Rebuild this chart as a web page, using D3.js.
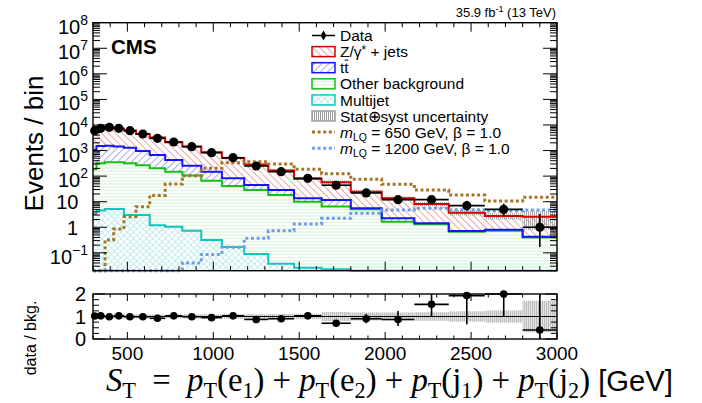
<!DOCTYPE html>
<html>
<head>
<meta charset="utf-8">
<script src="https://cdn.jsdelivr.net/npm/d3@7"></script>
<style>
  body { margin: 0; background: #fff; }
  svg { font-family: "Liberation Sans", Arial, sans-serif; }
</style>
</head>
<body>
<script>
// ---- data ----
var binEdges = [300, 320, 370, 420, 480, 550, 630, 720, 820, 930, 1050, 1180, 1320, 1470, 1630, 1800, 1980, 2170, 2370, 2580, 2800, 3000];

var multijet = [3.3, 4.5, 5.2, 5.2, 3.0, 3.0, 1.2, 1.05, 0.73, 0.32, 0.17, 0.09, 0.037, 0.026, 0.023, 0.01, 0.01, 0.01, 0.01, 0.01, 0.01];
var otherBkg = [182, 312, 342, 342, 314, 262, 201, 148, 104, 65.7, 40.8, 28.5, 18.3, 10, 6.4, 5.0, 1.64, 1.29, 0.66, 0.72, 0.39];
var ttbar    = [865, 1183, 1203, 1103, 973, 695, 468, 278, 150, 83, 41, 16.4, 10.3, 3.6, 5.1, 0.5, 0.59, 0.13, 0.05, 0.07, 0.03];
var zjets    = [4800, 5690, 6640, 5740, 4740, 3520, 2600, 1673, 1175, 718, 428, 241, 137, 66, 45.5, 19.1, 11.4, 6.7, 3.0, 1.95, 2.17];
var bkgRelUnc = [0.09, 0.09, 0.09, 0.09, 0.09, 0.09, 0.09, 0.09, 0.09, 0.10, 0.10, 0.10, 0.11, 0.12, 0.20, 0.18, 0.18, 0.19, 0.23, 0.27, 0.70];

var dataCounts = [5970, 7410, 8110, 7410, 5970, 4440, 3010, 2160, 1415, 824, 525, 249, 149, 82, 44, 22, 12, 12, 7, 5, 1];
var dataErrLo  = [77, 86, 90, 86, 77, 67, 55, 46, 38, 29, 23, 15.3, 12.2, 9.0, 6.6, 4.7, 3.5, 3.5, 2.6, 2.2, 0.83];
var dataErrHi  = [77, 86, 90, 86, 77, 67, 55, 46, 38, 29, 23, 16.3, 13.2, 10.1, 7.7, 5.7, 4.5, 4.5, 3.8, 3.4, 2.3];

var lq650  = [0.01, 0.01, 0.32, 0.86, 2.6, 6.4, 17.5, 49, 104, 202, 335, 366, 298, 185, 124, 75, 48, 28.6, 18.3, 10.6, 14.9];
var lq1200 = [0.01, 0.01, 0.01, 0.01, 0.01, 0.01, 0.01, 0.01, 0.04, 0.086, 0.166, 0.37, 0.73, 1.34, 2.24, 3.5, 4.7, 5.5, 4.8, 4.3, 4.7];

var ratio      = [1.02, 1.03, 0.99, 1.03, 0.99, 0.99, 0.92, 1.03, 0.99, 0.95, 1.03, 0.87, 0.90, 1.03, 0.70, 0.90, 0.87, 1.54, 1.93, 2.03, 0.40];
var ratioErrLo = [0.02, 0.02, 0.02, 0.02, 0.02, 0.02, 0.02, 0.03, 0.03, 0.04, 0.05, 0.06, 0.08, 0.12, 0.11, 0.20, 0.29, 0.52, 1.28, 1.01, 0.40];
var ratioErrHi = [0.02, 0.02, 0.02, 0.02, 0.02, 0.02, 0.02, 0.03, 0.03, 0.04, 0.05, 0.06, 0.08, 0.13, 0.12, 0.22, 0.37, 0.46, 1.00, 1.30, 1.70];

var yTickExp = [8, 7, 6, 5, 4, 3, 2, 1, 0, -1];
var xTickVals = [500, 1000, 1500, 2000, 2500, 3000];
var ratioTickVals = [0, 1, 2];

// ---- layout ----
var W = 702, H = 403;
var L = 93, R = 557, T = 22.7, B = 270.7, RT = 294, RB = 339;

var svg = d3.select("body").append("svg").attr("width", W).attr("height", H);

var x = d3.scaleLinear().domain([300, 3000]).range([L, R]);
var y = d3.scaleLog().domain([0.02, 1e8]).range([B, T]).clamp(true);
var yr = d3.scaleLinear().domain([0, 2]).range([RB, RT]).clamp(true);

var colZ = "#d40000", colTT = "#1414ff", colOther = "#14c014", colMJ = "#10c4c4",
    col650 = "#a67628", col1200 = "#6d9eeb";

// ---- fill patterns ----
var defs = svg.append("defs");
function hatch(id, color, angle, gap, width, cross) {
  var p = defs.append("pattern").attr("id", id).attr("patternUnits", "userSpaceOnUse")
    .attr("width", gap).attr("height", gap).attr("patternTransform", "rotate(" + angle + ")");
  p.append("rect").attr("width", gap).attr("height", gap).attr("fill", "#fff");
  p.append("line").attr("x1", gap / 2).attr("y1", 0).attr("x2", gap / 2).attr("y2", gap)
    .attr("stroke", color).attr("stroke-width", width);
  if (cross) p.append("line").attr("x1", 0).attr("y1", gap / 2).attr("x2", gap).attr("y2", gap / 2)
    .attr("stroke", color).attr("stroke-width", width);
}
hatch("hZ", "#eba3a3", -45, 5, 1);
hatch("hTT", "#a6a6f4", 45, 5, 1);
hatch("hOther", "#cdeecd", 90, 3.2, 0.9);
hatch("hMJ", "#b4eaea", 45, 4.5, 0.8, true);
var pg = defs.append("pattern").attr("id", "hUnc").attr("patternUnits", "userSpaceOnUse").attr("width", 2).attr("height", 2);
pg.append("rect").attr("width", 1).attr("height", 2).attr("fill", "#9a9a9a");
var pr = defs.append("pattern").attr("id", "hUncR").attr("patternUnits", "userSpaceOnUse").attr("width", 2).attr("height", 2);
pr.append("rect").attr("width", 2).attr("height", 2).attr("fill", "#e2e2e2");
pr.append("rect").attr("width", 1).attr("height", 2).attr("fill", "#bdbdbd");

// ---- stack ----
var rows = binEdges.slice(0, -1).map(function (lo, i) {
  return { lo: lo, hi: binEdges[i + 1], multijet: multijet[i], other: otherBkg[i], ttbar: ttbar[i], zjets: zjets[i] };
});
var stack = d3.stack().keys(["multijet", "other", "ttbar", "zjets"])(rows);

function stepBand(layer) {
  var p = [];
  layer.forEach(function (d) {
    p.push({ e: d.data.lo, a: d[0], b: d[1] }, { e: d.data.hi, a: d[0], b: d[1] });
  });
  return p;
}
function stepVals(vals) {
  var p = [];
  vals.forEach(function (v, i) { p.push({ e: binEdges[i], b: v }, { e: binEdges[i + 1], b: v }); });
  return p;
}
var area = d3.area().x(function (d) { return x(d.e); })
  .y0(function (d) { return y(Math.max(d.a, 1e-4)); })
  .y1(function (d) { return y(Math.max(d.b, 1e-4)); });
var line = d3.line().x(function (d) { return x(d.e); }).y(function (d) { return y(Math.max(d.b, 1e-4)); });

var fills = ["url(#hMJ)", "url(#hOther)", "url(#hTT)", "url(#hZ)"];
var strokes = [colMJ, colOther, colTT, colZ];

var gMain = svg.append("g");
stack.forEach(function (layer, k) {
  gMain.append("path").attr("d", area(stepBand(layer))).attr("fill", fills[k]);
});

// uncertainty band on total
var total = stack[3].map(function (d) { return d[1]; });
var uncPts = [];
total.forEach(function (t, i) {
  uncPts.push({ e: binEdges[i], a: t * (1 - bkgRelUnc[i]), b: t * (1 + bkgRelUnc[i]) },
              { e: binEdges[i + 1], a: t * (1 - bkgRelUnc[i]), b: t * (1 + bkgRelUnc[i]) });
});
gMain.append("path").attr("d", area(uncPts)).attr("fill", "url(#hUnc)").attr("opacity", 0.8);

stack.forEach(function (layer, k) {
  gMain.append("path").attr("d", line(stepBand(layer))).attr("fill", "none")
    .attr("stroke", strokes[k]).attr("stroke-width", 2);
});

// signals
gMain.append("path").attr("d", line(stepVals(lq650))).attr("fill", "none")
  .attr("stroke", col650).attr("stroke-width", 3).attr("stroke-dasharray", "3,2.6");
gMain.append("path").attr("d", line(stepVals(lq1200))).attr("fill", "none")
  .attr("stroke", col1200).attr("stroke-width", 3).attr("stroke-dasharray", "3,2.6");

// data
dataCounts.forEach(function (n, i) {
  var cx = x((binEdges[i] + binEdges[i + 1]) / 2);
  gMain.append("line").attr("x1", x(binEdges[i])).attr("x2", x(binEdges[i + 1]))
    .attr("y1", y(n)).attr("y2", y(n)).attr("stroke", "#000").attr("stroke-width", 1.6);
  gMain.append("line").attr("x1", cx).attr("x2", cx)
    .attr("y1", y(n - dataErrLo[i])).attr("y2", y(n + dataErrHi[i])).attr("stroke", "#000").attr("stroke-width", 1.6);
  gMain.append("circle").attr("cx", cx).attr("cy", y(n)).attr("r", 4.6).attr("fill", "#000");
});

// ---- ratio panel ----
var gRat = svg.append("g");
bkgRelUnc.forEach(function (u, i) {
  gRat.append("rect").attr("x", x(binEdges[i])).attr("width", x(binEdges[i + 1]) - x(binEdges[i]))
    .attr("y", yr(1 + u)).attr("height", yr(1 - u) - yr(1 + u)).attr("fill", "url(#hUncR)");
});
gRat.append("line").attr("x1", L).attr("x2", R).attr("y1", yr(1)).attr("y2", yr(1))
  .attr("stroke", "#000").attr("stroke-width", 1);
ratio.forEach(function (r, i) {
  var cx = x((binEdges[i] + binEdges[i + 1]) / 2);
  gRat.append("line").attr("x1", x(binEdges[i])).attr("x2", x(binEdges[i + 1]))
    .attr("y1", yr(r)).attr("y2", yr(r)).attr("stroke", "#000").attr("stroke-width", 1.6);
  gRat.append("line").attr("x1", cx).attr("x2", cx)
    .attr("y1", yr(r - ratioErrLo[i])).attr("y2", yr(r + ratioErrHi[i])).attr("stroke", "#000").attr("stroke-width", 1.6);
  gRat.append("circle").attr("cx", cx).attr("cy", yr(r)).attr("r", 3.8).attr("fill", "#000");
});

// ---- frames and ticks ----
function tick(x1, y1, x2, y2) {
  svg.append("line").attr("x1", x1).attr("y1", y1).attr("x2", x2).attr("y2", y2)
    .attr("stroke", "#000").attr("stroke-width", 1);
}
function xTicks(top, bottom, maj, min) {
  d3.range(300, 3001, 100).forEach(function (v) {
    var len = (v % 500 === 0) ? maj : min, px = x(v);
    tick(px, bottom, px, bottom - len);
    tick(px, top, px, top + len);
  });
}
xTicks(T, B, 9, 4.5);
xTicks(RT, RB, 7, 3.5);

// log y ticks
for (var e = -2; e <= 7; e++) {
  for (var k = 1; k <= 9; k++) {
    var v = k * Math.pow(10, e);
    if (v < 0.02 || v > 1e8) continue;
    var len = (k === 1) ? 14 : 7, py = y(v);
    tick(L, py, L + len, py);
    tick(R, py, R - len, py);
  }
}
// ratio y ticks
d3.range(0, 2.001, 0.25).forEach(function (v) {
  var len = (v % 1 === 0) ? 12 : 6, py = yr(v);
  tick(L, py, L + len, py);
  tick(R, py, R - len, py);
});

svg.append("rect").attr("x", L).attr("y", T).attr("width", R - L).attr("height", B - T)
  .attr("fill", "none").attr("stroke", "#000").attr("stroke-width", 1.4);
svg.append("rect").attr("x", L).attr("y", RT).attr("width", R - L).attr("height", RB - RT)
  .attr("fill", "none").attr("stroke", "#000").attr("stroke-width", 1.4);

// ---- axis labels ----
yTickExp.forEach(function (e) {
  var py = y(Math.pow(10, e));
  if (e === 1 || e === 0) {
    svg.append("text").attr("x", e === 1 ? 78.5 : 78).attr("y", py + 7.3).attr("text-anchor", "end")
      .attr("font-size", 20).text(e === 1 ? "10" : "1");
  } else {
    var t = svg.append("text").attr("x", 88).attr("y", py + 11).attr("text-anchor", "end").attr("font-size", 20);
    t.append("tspan").text("10");
    t.append("tspan").attr("font-size", 14).attr("dy", -9).text(e < 0 ? "\u2212" + (-e) : e);
  }
});
ratioTickVals.forEach(function (v) {
  svg.append("text").attr("x", 86).attr("y", yr(v) + 7.3).attr("text-anchor", "end")
    .attr("font-size", 20).text(v);
});
xTickVals.forEach(function (v) {
  svg.append("text").attr("x", x(v)).attr("y", 360).attr("text-anchor", "middle")
    .attr("font-size", 19).text(v);
});

svg.append("text").attr("transform", "translate(43,143.5) rotate(-90)").attr("text-anchor", "middle")
  .attr("font-size", 26).text("Events / bin");
svg.append("text").attr("transform", "translate(36,338) rotate(-90)").attr("text-anchor", "middle")
  .attr("font-size", 16).text("data / bkg.");

// x title (math style, serif)
var xt = svg.append("text").attr("font-family", "'Liberation Serif', 'DejaVu Serif', serif")
  .attr("font-size", 28).style("white-space", "pre");
var eq = "\u2002=\u2002", plus = ") + ";
var parts = [["S", "i"], ["T", "s"], [eq, ""], ["p", "i"], ["T", "s"], ["(e", ""], ["1", "s"], [plus, ""],
  ["p", "i"], ["T", "s"], ["(e", ""], ["2", "s"], [plus, ""], ["p", "i"], ["T", "s"], ["(j", ""], ["1", "s"],
  [plus, ""], ["p", "i"], ["T", "s"], ["(j", ""], ["2", "s"], [")", ""], [" [GeV]", "g"]];
var shift = 0;
parts.forEach(function (p) {
  var ts = xt.append("tspan").text(p[0]);
  var want = (p[1] === "s") ? 6 : 0;
  if (want !== shift) { ts.attr("dy", want - shift); shift = want; }
  if (p[1] === "i") ts.attr("font-style", "italic");
  if (p[1] === "s") ts.attr("font-size", 19);
  if (p[1] === "g") ts.attr("font-family", "'Liberation Sans', Arial, sans-serif").attr("font-size", 25);
});
var bb = xt.node().getBBox();
var sc = (673 - 106) / bb.width;
xt.attr("transform", "translate(" + (106 - bb.x * sc) + ",391) scale(" + sc + ")");

// ---- header ----
svg.append("text").attr("x", 111).attr("y", 53.5).attr("font-size", 20.5).attr("font-weight", "bold").text("CMS");
var lum = svg.append("text").attr("x", 556).attr("y", 17).attr("text-anchor", "end").attr("font-size", 13);
lum.append("tspan").text("35.9 fb");
lum.append("tspan").attr("font-size", 9).attr("dy", -5).text("-1");
lum.append("tspan").attr("dy", 5).text(" (13 TeV)");

// ---- legend ----
var legX = 312, legW = 23, legTx = 340, legY0 = 35.5, legDy = 16.1, legFs = 15.5;
function rowY(i) { return legY0 + i * legDy; }
function legText(i) {
  return svg.append("text").attr("x", legTx).attr("y", rowY(i) + 5.6).attr("font-size", legFs);
}
function legBox(i, fill, stroke) {
  svg.append("rect").attr("x", legX).attr("y", rowY(i) - 5).attr("width", legW).attr("height", 10)
    .attr("fill", fill).attr("stroke", stroke).attr("stroke-width", 1.5);
}
// Data
svg.append("line").attr("x1", legX).attr("x2", legX + legW).attr("y1", rowY(0)).attr("y2", rowY(0))
  .attr("stroke", "#000").attr("stroke-width", 1.5);
svg.append("path").attr("d", d3.symbol().type(d3.symbolDiamond).size(30)())
  .attr("transform", "translate(" + (legX + legW / 2) + "," + rowY(0) + ")").attr("fill", "#000");
legText(0).text("Data");
legBox(1, "url(#hZ)", colZ);
var tz = legText(1);
tz.append("tspan").text("Z/\u03b3");
tz.append("tspan").attr("dy", -3).attr("font-size", 12).text("*");
tz.append("tspan").attr("dy", 3).text(" + jets");
legBox(2, "url(#hTT)", colTT);
var ttT = legText(2).text("tt");
var ext = ttT.node().getExtentOfChar(1);
svg.append("line").attr("x1", ext.x + 0.3).attr("x2", ext.x + ext.width - 0.3)
  .attr("y1", rowY(2) - 7.6).attr("y2", rowY(2) - 7.6).attr("stroke", "#000").attr("stroke-width", 1);
legBox(3, "url(#hOther)", colOther);
legText(3).text("Other background");
legBox(4, "url(#hMJ)", colMJ);
legText(4).text("Multijet");
legBox(5, "url(#hUnc)", "#a0a0a0");
legText(5).text("Stat\u2295syst uncertainty");
[[6, col650, "650"], [7, col1200, "1200"]].forEach(function (s) {
  svg.append("line").attr("x1", legX).attr("x2", legX + legW).attr("y1", rowY(s[0])).attr("y2", rowY(s[0]))
    .attr("stroke", s[1]).attr("stroke-width", 3).attr("stroke-dasharray", "3,2.6");
  var t = legText(s[0]);
  t.append("tspan").attr("font-style", "italic").text("m");
  t.append("tspan").attr("font-size", 10.5).attr("dy", 3.5).text("LQ");
  t.append("tspan").attr("dy", -3.5).text(" = " + s[2] + " GeV, \u03b2 = 1.0");
});
</script>
</body>
</html>
